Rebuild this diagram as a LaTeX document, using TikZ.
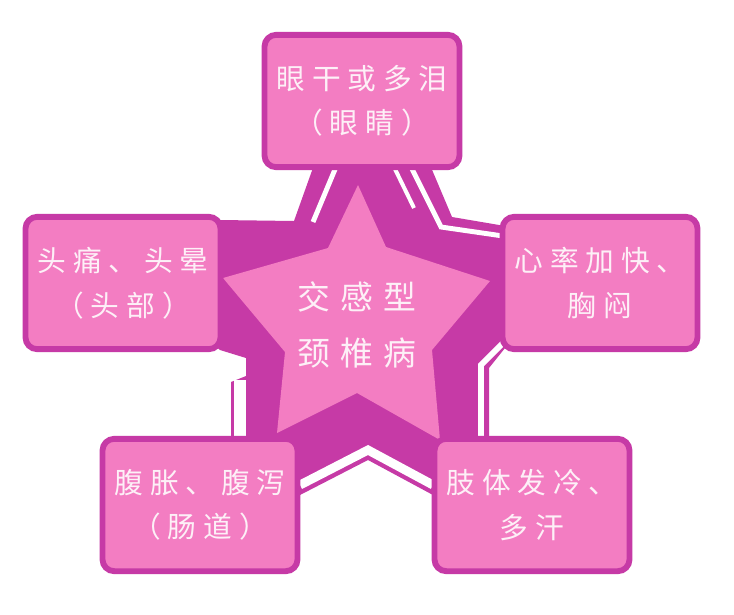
\documentclass[tikz,border=0pt]{standalone}
\usepackage{fontspec}
\newfontfamily\boxfont[LetterSpace=24]{Noto Sans CJK SC}
\newfontfamily\starfont[LetterSpace=30]{Noto Sans CJK SC}
\definecolor{starpurple}{RGB}{198,58,166}
\definecolor{boxpink}{RGB}{243,125,194}
\definecolor{textpink}{RGB}{253,240,247}
\begin{document}
\begin{tikzpicture}[x=0.03cm, y=-0.03cm,
  every node/.style={text=textpink, align=center, inner sep=0pt},
  symptom/.style={draw=starpurple, fill=boxpink, line width=5pt, rounded corners=10pt,
    minimum width=5.85cm, minimum height=3.97cm,
    font=\boxfont\fontsize{24.5pt}{38pt}\selectfont},
  stripe/.style={white, line width=#1}, stripe/.default=4pt]
\fill[white] (0,0) rectangle (734,614);

% Dark star, its points run under the boxes
\fill[starpurple] (294,221) -- (314,165) -- (372,90) -- (430,165) -- (452,217)
  -- (505,226) -- (600,285) -- (560,330) -- (505,348) -- (489,368) -- (489,437)
  -- (520,500) -- (433,495) -- (368,460) -- (300,495) -- (240,520) -- (231,440)
  -- (231,382) -- (246,376) -- (246,358) -- (220,350) -- (150,290) -- (220,220) -- cycle;

% White stripes along the dark star
\draw[stripe=4.2pt] (336,167) -- (313,222);
\draw[stripe=3.4pt] (394,167) -- (414,208);
\draw[stripe=4.2pt] (411,167) -- (441,227) -- (503,236);
\draw[stripe=5.1pt] (503,343) -- (481,365) -- (481,440);
\draw[stripe=7.6pt] (300,485) -- (368,450) -- (433,485);
\draw[stripe=10.2pt] (240,380) -- (240,440);

% Light star in the middle
\fill[boxpink] (358,185) -- (386,247) -- (490,281) -- (432,350) -- (440,440)
  -- (357,393) -- (277,433) -- (285,352) -- (223,278) -- (328,248) -- cycle;
\node[font=\starfont\fontsize{28pt}{47.6pt}\selectfont] (title) at (357,325) {交感型\\颈椎病};

% Symptom boxes, top then clockwise
\node[symptom] (eye) at (362,101) {眼干或多泪\\（眼睛）};
\node[symptom] (heart) at (600,283) {心率加快、\\胸闷};
\node[symptom] (limb) at (532,505) {肢体发冷、\\多汗};
\node[symptom] (gut) at (200,505) {腹胀、腹泻\\（肠道）};
\node[symptom] (head) at (123,283) {头痛、头晕\\（头部）};
\end{tikzpicture}
\end{document}
